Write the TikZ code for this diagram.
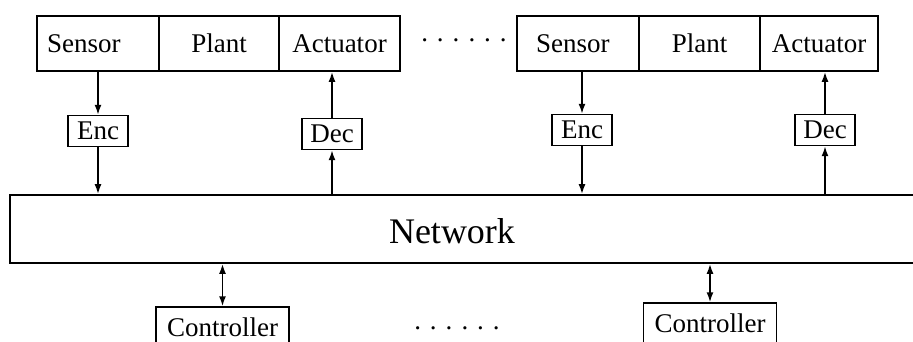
\documentclass[tikz,border=0pt]{standalone}
\usepackage{fontspec}
\setmainfont{Liberation Serif}
\usepackage{tikz}
\usetikzlibrary{arrows.meta}

\tikzset{
  cell/.style={draw, line width=1.7pt, minimum height=55pt, inner sep=0pt, font=\fontsize{27}{30}\selectfont},
  coder/.style={draw, line width=1.4pt, minimum width=60pt, minimum height=31pt, inner sep=0pt, font=\fontsize{27}{30}\selectfont},
  ctrl/.style={draw, line width=1.4pt, minimum width=133pt, minimum height=40pt, inner sep=0pt, font=\fontsize{27}{30}\selectfont},
  link/.style={line width=1.7pt, -{Latex[length=10pt,width=7pt]}},
  duplex/.style={line width=1.7pt, {Latex[length=10pt,width=7pt]}-{Latex[length=10pt,width=7pt]}}
}

\begin{document}
\begin{tikzpicture}[x=1pt, y=-1pt]
      \useasboundingbox (0,0) rectangle (913,342);

      % first loop
      \node[cell, minimum width=122pt, text width=110pt, align=left] (sensor1) at (98, 43.5){\hspace*{4pt}Sensor};
      \node[cell, minimum width=120pt] (plant1) at (219, 43.5){Plant};
      \node[cell, minimum width=121pt] (act1) at (339.5, 43.5){Actuator};
      \node[coder] (enc1) at (98, 131){Enc};
      \node[coder] (dec1) at (332, 134){Dec};

      % last loop
      \node[cell, minimum width=122pt, text width=110pt, align=left] (sensor2) at (578, 43.5){\hspace*{13pt}Sensor};
      \node[cell, minimum width=121pt] (plant2) at (699.5, 43.5){Plant};
      \node[cell, minimum width=118pt] (act2) at (819, 43.5){Actuator};
      \node[coder] (enc2) at (582, 130){Enc};
      \node[coder] (dec2) at (825, 130){Dec};

      \node (dotsup) at (464, 40){\fontsize{27}{30}\selectfont . . . . . .};

      % network
      \node[draw, line width=1.7pt, minimum width=915pt, minimum height=68pt, inner sep=0pt] (net) at (467.5, 229){};
      \node[font=\fontsize{36}{40}\selectfont] (netlabel) at (452, 231){Network};

      % controllers
      \node[ctrl] (ctrl1) at (222.5, 327){Controller};
      \node[ctrl] (ctrl2) at (710, 323){Controller};
      \node (dotsdown) at (457, 328){\fontsize{27}{30}\selectfont . . . . . .};

      \draw[link] (sensor1.south -| enc1) -- (enc1.north);
      \draw[link] (enc1.south) -- (net.north -| enc1);
      \draw[link] (net.north -| dec1) -- (dec1.south);
      \draw[link] (dec1.north) -- (act1.south -| dec1);

      \draw[link] (sensor2.south -| enc2) -- (enc2.north);
      \draw[link] (enc2.south) -- (net.north -| enc2);
      \draw[link] (net.north -| dec2) -- (dec2.south);
      \draw[link] (dec2.north) -- (act2.south -| dec2);

      \draw[duplex] (net.south -| ctrl1) -- (ctrl1.north);
      \draw[duplex] (net.south -| ctrl2) -- (ctrl2.north);
    \end{tikzpicture}
\end{document}
